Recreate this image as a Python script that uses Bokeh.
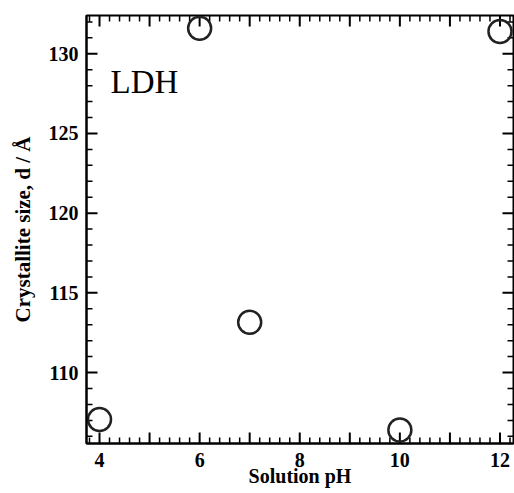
import math
import numpy as np
from bokeh.plotting import figure
from bokeh.models import LinearAxis, SingleIntervalTicker, Range1d, Label
from bokeh.embed import file_html
from bokeh.resources import INLINE

# data
ph = [4, 6, 7, 10, 12]
crystallite_size = [107.05, 131.6, 113.15, 106.4, 131.4]
x_tick_labels = {4: "4", 6: "6", 8: "8", 10: "10", 12: "12"}

X0, X1 = 3.74, 12.27
Y0, Y1 = 105.55, 132.4

# tick positions
x_major = [float(v) for v in np.arange(4, 13, 1)]
x_minor = [round(float(v), 1) for v in np.arange(3.8, 12.21, 0.2) if abs(v - round(v)) > 1e-6]
y_major = [float(v) for v in np.arange(110, 131, 5)]
y_minor = [float(v) for v in np.arange(106, 133, 1) if v % 5 != 0]

FONT = "Liberation Serif"

p = figure(width=514, height=493, output_backend="svg", toolbar_location=None,
           x_range=Range1d(X0, X1), y_range=Range1d(Y0, Y1),
           x_axis_type=None, y_axis_type=None,
           min_border_left=86, min_border_right=1, min_border_top=15, min_border_bottom=50)
p.grid.visible = False
p.outline_line_color = "black"
p.outline_line_width = 2
p.background_fill_color = "white"
p.border_fill_color = "white"

def style(ax):
    ax.axis_line_color = "black"
    ax.axis_line_width = 2
    ax.major_tick_in = 0
    ax.major_tick_out = 0
    ax.minor_tick_in = 0
    ax.minor_tick_out = 0
    ax.major_label_text_font = FONT
    ax.major_label_text_font_style = "bold"
    ax.major_label_text_font_size = "20px"
    ax.major_label_text_color = "black"
    ax.axis_label_text_font = FONT
    ax.axis_label_text_font_style = "bold"
    ax.axis_label_text_color = "black"

xb = LinearAxis(ticker=SingleIntervalTicker(interval=1), axis_label="Solution pH")
style(xb)
xb.major_label_overrides = {k: x_tick_labels.get(k, "") for k in range(4, 13)}
xb.major_label_standoff = 9
xb.axis_label_standoff = -5
xb.axis_label_text_font_size = "20px"
p.add_layout(xb, "below")

yl = LinearAxis(ticker=SingleIntervalTicker(interval=5), axis_label="Crystallite size, d / Å")
style(yl)
yl.major_label_standoff = 8
yl.axis_label_standoff = 11
yl.axis_label_text_font_size = "21px"
p.add_layout(yl, "left")

# inward ticks on all four sides
def ticks(xs, ys, angle, length, width):
    p.ray(x=xs, y=ys, length=length, angle=angle, length_units="screen",
          line_color="black", line_width=width)

for vals, ln, w in ((x_major, 11, 2), (x_minor, 6, 1.5)):
    ticks(vals, [Y0] * len(vals), math.pi / 2, ln, w)
    ticks(vals, [Y1] * len(vals), -math.pi / 2, ln, w)
for vals, ln, w in ((y_major, 11, 2), (y_minor, 6, 1.5)):
    ticks([X0] * len(vals), vals, 0, ln, w)
    ticks([X1] * len(vals), vals, math.pi, ln, w)

p.scatter(ph, crystallite_size, marker="circle", size=23, fill_color=None,
          line_color="#222222", line_width=2.5)

p.add_layout(Label(x=4.22, y=127.1, text="LDH", text_font=FONT, text_font_size="33px",
                   text_color="black", text_baseline="bottom"))

open("out.html", "w").write(file_html(p, INLINE))
